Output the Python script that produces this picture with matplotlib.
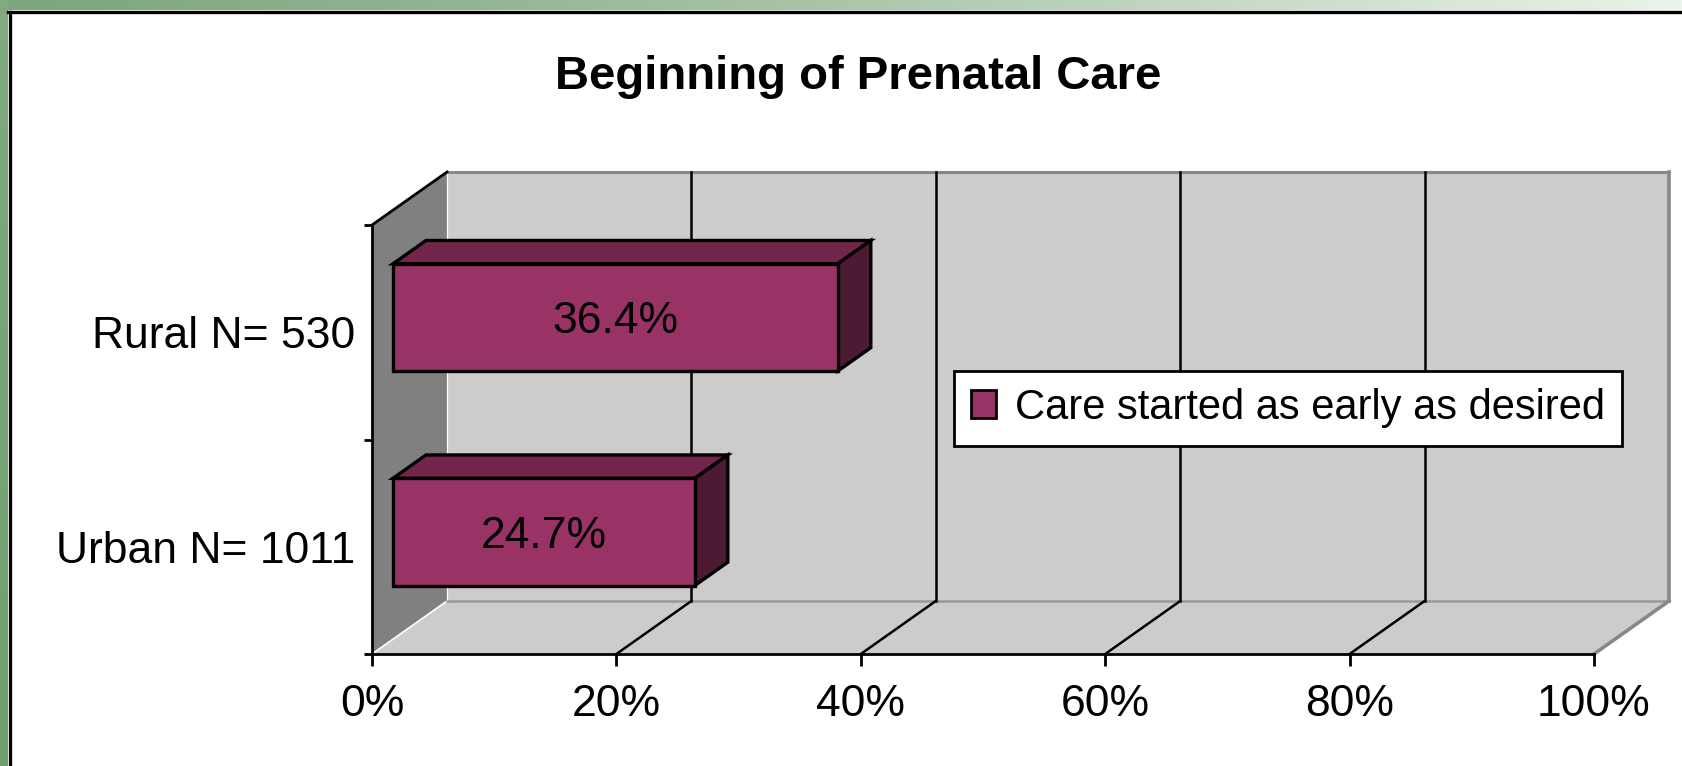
import numpy as np
import matplotlib
matplotlib.use('Agg')
import matplotlib.pyplot as plt
from matplotlib.patches import Polygon, Patch
from matplotlib.lines import Line2D

plt.rcParams['font.family'] = ['Liberation Sans', 'DejaVu Sans']

# data
categories = ['Urban N= 1011', 'Rural N= 530']
values = [0.247, 0.364]
bar_labels = ['24.7%', '36.4%']
series_name = 'Care started as early as desired'
xticks = [0, 0.2, 0.4, 0.6, 0.8, 1.0]
xtick_labels = ['0%', '20%', '40%', '60%', '80%', '100%']
title = 'Beginning of Prenatal Care'

# colours
bar_front = '#993366'
bar_top = '#72264c'
bar_side = '#4d1a33'
wall_grey = '#cccccc'
side_wall = '#808080'

# depth of the fake 3d box in data units (x: 0..1, y: 0..2)
DEPTH_X = 75 / 1222
DEPTH_Y = 53 / 429 * 2
Z0, Z1 = 0.28, 0.72   # bar front/back depth


def P(x, y, z):
    return (x + z * DEPTH_X, y + z * DEPTH_Y)


W, H = 1682, 766
fig = plt.figure(figsize=(W / 100, H / 100), dpi=100)
fig.patch.set_facecolor('white')

# green frame on top and left
t = np.linspace(0, 1, W)[None, :, None]
c_left = np.array([126, 167, 126]) / 255
c_right = np.array([236, 243, 236]) / 255
top_strip = c_left + (c_right - c_left) * t ** 1.3
top_strip = np.repeat(top_strip, 10, axis=0)
fig.figimage(top_strip, xo=0, yo=H - 10, origin='upper', zorder=0)
s = np.linspace(0, 1, H)[:, None, None]
lt, lb = np.array([128, 172, 128]) / 255, np.array([110, 158, 110]) / 255
left_strip = np.repeat(lt + (lb - lt) * s, 8, axis=1)
fig.figimage(left_strip, xo=0, yo=0, origin='upper', zorder=0)
fig.add_artist(Line2D([9.5 / W, 9.5 / W], [0, 1 - 11.5 / H], color='black', lw=2.4, transform=fig.transFigure))
fig.add_artist(Line2D([8 / W, 1], [1 - 11.5 / H, 1 - 11.5 / H], color='black', lw=2.4, transform=fig.transFigure))

ax = fig.add_axes([372 / W, 112 / H, 1222 / W, 429 / H])
ax.set_xlim(0, 1)
ax.set_ylim(0, 2)
ax.patch.set_visible(False)
for sp in ['top', 'right']:
    ax.spines[sp].set_visible(False)
for sp in ['left', 'bottom']:
    ax.spines[sp].set_linewidth(2.0)
    ax.spines[sp].set_zorder(4)


def face(pts, fc, ec='none', lw=0, z=1):
    ax.add_patch(Polygon(pts, closed=True, facecolor=fc, edgecolor=ec, lw=lw,
                         zorder=z, clip_on=False, joinstyle='miter'))


def seg(a, b, color, lw, z=1.5):
    ax.add_line(Line2D([a[0], b[0]], [a[1], b[1]], color=color, lw=lw, zorder=z, clip_on=False))


# walls
face([P(0, 0, 0), P(0, 2, 0), P(0, 2, 1), P(0, 0, 1)], side_wall, z=0.5)
face([P(0, 0, 0), P(1, 0, 0), P(1, 0, 1), P(0, 0, 1)], wall_grey, z=0.5)
face([P(0, 0, 1), P(1, 0, 1), P(1, 2, 1), P(0, 2, 1)], wall_grey, z=0.5)
seg(P(0, 0, 1), P(0, 2, 1), 'white', 0.9, 0.8)
seg(P(0, 0, 0), P(0, 0, 1), 'white', 1.2, 0.8)
seg(P(0, 0, 1), P(1, 0, 1), '#999999', 1.8, 0.8)
seg(P(0, 2, 1), P(1, 2, 1), '#888888', 2.2, 0.8)
seg(P(1, 2, 1), P(1, 0, 1), '#888888', 2.6, 0.8)
seg(P(1, 0, 0), P(1, 0, 1), '#888888', 2.6, 0.8)
seg(P(0, 2, 0), P(0, 2, 1), 'black', 2.0, 1.5)

# gridlines on floor and back wall
for v in xticks[1:-1]:
    seg(P(v, 0, 0), P(v, 0, 1), 'black', 1.8)
    seg(P(v, 0, 1), P(v, 2, 1), 'black', 1.8)

# bars
half = 0.25
for i, (v, lab) in enumerate(zip(values, bar_labels)):
    yc = i + 0.5
    lo, hi = yc - half, yc + half
    face([P(0, hi, Z0), P(v, hi, Z0), P(v, hi, Z1), P(0, hi, Z1)], bar_top, 'black', 2.4, 3)
    face([P(v, lo, Z0), P(v, hi, Z0), P(v, hi, Z1), P(v, lo, Z1)], bar_side, 'black', 2.4, 3)
    face([P(0, lo, Z0), P(v, lo, Z0), P(v, hi, Z0), P(0, hi, Z0)], bar_front, 'black', 2.4, 3.1)
    tx, ty = P(v / 2, yc, Z0)
    ax.text(tx, ty, lab, ha='center', va='center_baseline', fontsize=32, zorder=4)

# axes ticks
ax.set_xticks(xticks)
ax.set_xticklabels(xtick_labels, fontsize=32)
ax.tick_params(axis='x', direction='out', length=8.6, width=2.0, pad=13)
ax.set_yticks([0, 1, 2])
ax.set_yticklabels([])
ax.tick_params(axis='y', which='major', direction='out', length=5.8, width=2.0)
ax.set_yticks([0.5, 1.5], minor=True)
ax.set_yticklabels(categories, minor=True, fontsize=32)
ax.tick_params(axis='y', which='minor', length=0, pad=12)

# legend
handle = Patch(facecolor=bar_front, edgecolor='black', lw=2.0)
leg = ax.legend([handle], [series_name], loc='center',
                bbox_to_anchor=((958 + 1618) / 2 / W, 1 - 408 / H),
                bbox_transform=fig.transFigure, fontsize=30,
                frameon=True, fancybox=False, framealpha=1, edgecolor='black',
                handlelength=0.6, handleheight=0.65, handletextpad=0.45,
                borderpad=0.42, borderaxespad=0)
leg.get_frame().set_linewidth(2.0)
leg.set_zorder(6)

fig.text(858 / W, 1 - 89 / H, title, ha='center', va='baseline', fontsize=34, fontweight='bold')

fig.savefig('out.png', dpi=100)
